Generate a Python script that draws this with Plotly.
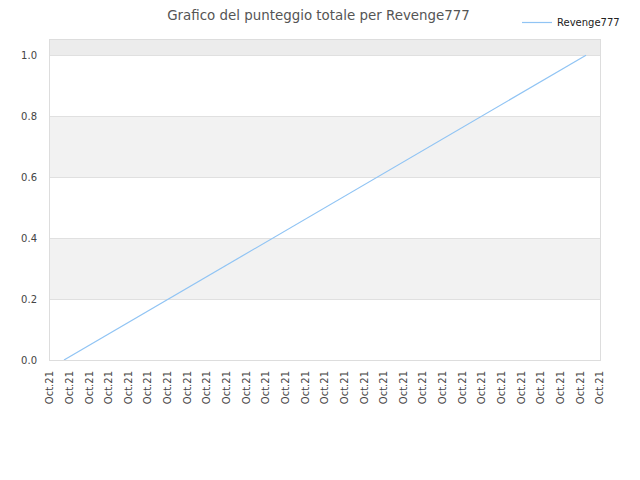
import plotly.graph_objects as go
import pandas as pd

# Data
series_name = "Revenge777"
dates = ["2021-10-21 00:00", "2021-10-22 02:06"]
scores = [0.0, 1.0]
tick_label = "Oct.21"
n_ticks = 29
y_ticks = [0.0, 0.2, 0.4, 0.6, 0.8, 1.0]

x = pd.to_datetime(dates)
span = x[-1] - x[0]
pad = span * (14 / 522)
x0, x1 = x[0] - pad, x[-1] + pad
tickvals = pd.date_range(x0, x1, periods=n_ticks)

fig = go.Figure()
fig.add_trace(go.Scatter(x=x, y=scores, mode="lines", name=series_name,
                         line=dict(color="#90c4f4", width=1.2)))

# alternating bands
for lo, hi, col in [(0.2, 0.4, "#f2f2f2"), (0.6, 0.8, "#f2f2f2"), (1.0, 1.05, "#ececec")]:
    fig.add_shape(type="rect", xref="paper", yref="y", x0=0, x1=1, y0=lo, y1=hi,
                  fillcolor=col, line_width=0, layer="below")

fig.update_layout(
    width=640, height=480,
    margin=dict(l=42, r=48, t=32, b=128, autoexpand=False),
    paper_bgcolor="white", plot_bgcolor="white",
    font=dict(family="DejaVu Sans", size=10, color="#444"),
    title=dict(text="Grafico del punteggio totale per Revenge777", x=310.5 / 640,
               xanchor="center", xref="container", y=1 - 7 / 480, yanchor="middle",
               font=dict(size=13.4, color="#555")),
    showlegend=True,
    legend=dict(x=(617 - 42) / 550, xanchor="right", y=1.008, yref="container",
                yanchor="top", itemwidth=30,
                font=dict(size=10, color="#222"), bgcolor="rgba(0,0,0,0)"),
    xaxis=dict(type="date", range=[x0, x1], tickvals=tickvals,
               ticktext=[tick_label] * n_ticks, tickangle=-90, showgrid=False,
               showline=True, linecolor="#dddddd", mirror=True, zeroline=False,
               tickfont=dict(size=10, color="#444"), ticks="", ticklabelstandoff=6),
    yaxis=dict(range=[0, 1.05], tickvals=y_ticks, tickformat=".1f",
               showgrid=True, gridcolor="#e0e0e0", showline=True, linecolor="#dddddd",
               mirror=True, zeroline=False, tickfont=dict(size=10, color="#444"),
               ticks="", ticklabelstandoff=10),
)

fig.write_html("out.html")
